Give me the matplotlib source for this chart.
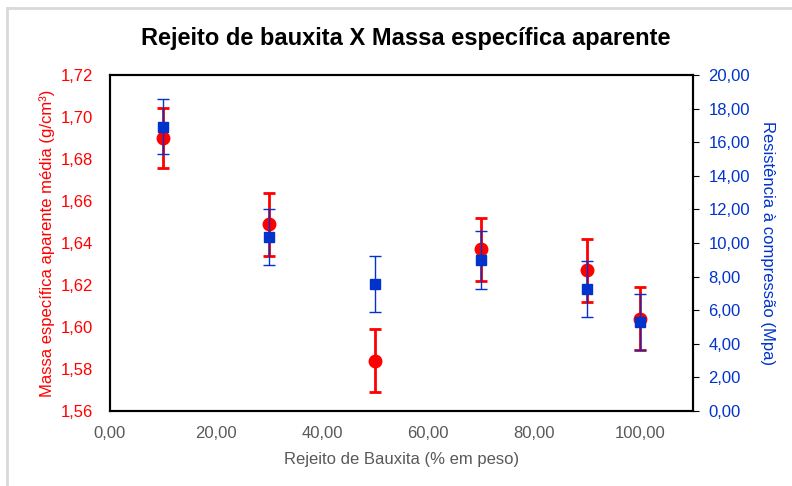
import matplotlib.pyplot as plt
from matplotlib.lines import Line2D
from matplotlib.ticker import FuncFormatter, MultipleLocator

# Teor de rejeito de bauxita (% em peso)
rejeito = [10, 30, 50, 70, 90, 100]
# Massa específica aparente média (g/cm3) e desvio
massa = [1.690, 1.649, 1.584, 1.637, 1.627, 1.604]
massa_err = [0.0145, 0.015, 0.015, 0.015, 0.015, 0.015]
# Resistência à compressão (MPa) e desvio
resist = [16.92, 10.34, 7.56, 8.99, 7.24, 5.28]
resist_err = [1.65, 1.67, 1.66, 1.70, 1.67, 1.66]

red = "#ff0000"
blue = "#0033cc"
gray = "#595959"

plt.rcParams["font.family"] = ["Liberation Sans", "DejaVu Sans"]

fig = plt.figure(figsize=(7.92, 4.86), dpi=100)
ax = fig.add_axes([110 / 792, 75 / 486, 583 / 792, 336 / 486])
ax2 = ax.twinx()

# massa específica (eixo esquerdo)
ax.errorbar(rejeito, massa, yerr=massa_err, fmt="o", color=red, ms=9,
            elinewidth=2, capsize=4.5, capthick=2, zorder=3)
ax.set_xlim(0, 110)
ax.set_ylim(1.56, 1.72)
ax.xaxis.set_major_locator(MultipleLocator(20))
ax.yaxis.set_major_locator(MultipleLocator(0.02))
ax.xaxis.set_major_formatter(FuncFormatter(lambda v, p: f"{v:.2f}".replace(".", ",")))
ax.yaxis.set_major_formatter(FuncFormatter(lambda v, p: f"{v:.2f}".replace(".", ",")))
ax.tick_params(axis="y", colors=red, labelsize=12, length=0, pad=12)
ax.tick_params(axis="x", colors=gray, labelsize=12, length=0, pad=11)
ax.set_ylabel("Massa específica aparente média (g/cm³)", color=red, fontsize=12)
ax.yaxis.set_label_coords(-0.095, 0.5)
ax.set_xlabel("Rejeito de Bauxita (% em peso)", color=gray, fontsize=12, labelpad=8)

# resistência à compressão (eixo direito)
ax2.errorbar(rejeito, resist, yerr=resist_err, fmt="s", color=blue, ms=7.5,
             elinewidth=1, capsize=4.5, capthick=1, zorder=3)
ax2.set_ylim(0, 20)
ax2.yaxis.set_major_locator(MultipleLocator(2))
ax2.yaxis.set_major_formatter(FuncFormatter(lambda v, p: f"{v:.2f}".replace(".", ",")))
ax2.tick_params(axis="y", colors=blue, labelsize=12, length=4, pad=7)
ax2.tick_params(axis="y", color="black")
ax2.set_ylabel("Resistência à compressão (Mpa)", color=blue, fontsize=12,
               rotation=270, va="top")
ax2.yaxis.set_label_coords(1.14, 0.5)

for a in (ax, ax2):
    for s in a.spines.values():
        s.set_linewidth(1.5)
        s.set_color("black")

fig.suptitle("Rejeito de bauxita X Massa específica aparente", fontsize=17,
             fontweight="bold", x=406 / 792, y=1 - 38 / 486, va="center")

# moldura do gráfico
fig.add_artist(Line2D([7 / 792, 7 / 792], [0, 1 - 8 / 486], transform=fig.transFigure,
                      color="#d9d9d9", lw=2))
fig.add_artist(Line2D([7 / 792, 1], [1 - 8 / 486, 1 - 8 / 486], transform=fig.transFigure,
                      color="#d9d9d9", lw=2))

fig.savefig("out.png", dpi=100)
